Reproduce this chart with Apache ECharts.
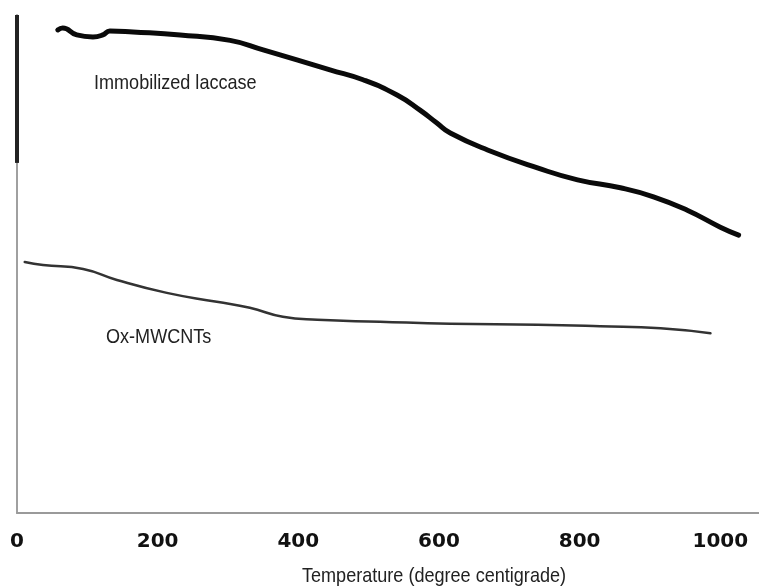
<!DOCTYPE html>
<html>
<head>
<meta charset="utf-8">
<script src="https://cdn.jsdelivr.net/npm/echarts@6/dist/echarts.min.js"></script>
<style>
  html, body { margin: 0; padding: 0; background: #fff; }
  #chart { width: 759px; height: 586px; }
</style>
</head>
<body>
<div id="chart"></div>
<script>
// temperature (degree centigrade) and relative weight
const laccaseTemp = [58, 65, 85, 108, 122, 132, 165, 232, 303, 350, 398, 445, 492, 541, 573, 597, 616, 669, 740, 797, 858, 905, 953, 1000, 1026]
const laccaseWeight = [97.0, 97.4, 96.0, 95.6, 96.0, 96.8, 96.6, 96.0, 94.9, 93.0, 91.0, 89.0, 87.0, 83.9, 80.9, 78.3, 76.3, 72.9, 69.3, 66.9, 65.3, 63.5, 60.8, 57.4, 55.8]

const mwcntTemp = [11, 37, 94, 142, 213, 284, 331, 378, 427, 516, 616, 740, 829, 915, 986]
const mwcntWeight = [50.4, 49.8, 49.0, 46.8, 44.2, 42.4, 41.2, 39.4, 38.8, 38.4, 38.0, 37.8, 37.5, 37.1, 36.1]

const xTicks = [0, 200, 400, 600, 800, 1000]
const seriesNames = ['Immobilized laccase', 'Ox-MWCNTs']
const axisTitle = 'Temperature (degree centigrade)'

const pair = (xs, ys) => xs.map((x, i) => [x, ys[i]])

// the original uses a condensed sans, so squeeze a normal one
const narrowText = (text, x, y) => ({
  type: 'text',
  x,
  y,
  scaleX: 0.86,
  style: { text, fill: '#222', font: '21px "Liberation Sans", Arial, sans-serif', textVerticalAlign: 'top' }
})

const chart = echarts.init(document.getElementById('chart'))

chart.setOption({
  animation: false,
  grid: { left: 17, right: 0, top: 15, bottom: 73, containLabel: false },
  xAxis: {
    type: 'value',
    min: 0,
    max: 1055,
    interval: 200,
    axisLine: { lineStyle: { color: '#9a9a9a', width: 2 } },
    axisTick: { show: false },
    splitLine: { show: false },
    axisLabel: {
      showMaxLabel: false,
      margin: 19,
      color: '#111',
      fontFamily: 'DejaVu Sans',
      fontWeight: 'bold',
      fontSize: 20,
      formatter: (v) => (xTicks.includes(v) ? String(v) : '')
    }
  },
  yAxis: {
    type: 'value',
    min: 0,
    max: 100,
    axisLine: { show: true, lineStyle: { color: '#a0a0a0', width: 2 } },
    axisTick: { show: false },
    axisLabel: { show: false },
    splitLine: { show: false }
  },
  graphic: [
    narrowText(seriesNames[0], 94, 73),
    narrowText(seriesNames[1], 106, 327),
    narrowText(axisTitle, 302, 566)
  ],
  series: [
    {
      name: seriesNames[0],
      type: 'line',
      data: pair(laccaseTemp, laccaseWeight),
      smooth: 0.5,
      showSymbol: false,
      clip: false,
      lineStyle: { color: '#0a0a0a', width: 5, cap: 'round', join: 'round' },
      markLine: {
        silent: true,
        symbol: ['none', 'none'],
        label: { show: false },
        lineStyle: { color: '#222', width: 4, type: 'solid' },
        data: [[{ coord: [0, 100] }, { coord: [0, 70.3] }]]
      }
    },
    {
      name: seriesNames[1],
      type: 'line',
      data: pair(mwcntTemp, mwcntWeight),
      smooth: 0.5,
      showSymbol: false,
      lineStyle: { color: '#333', width: 2.5, cap: 'round' }
    }
  ]
})
</script>
</body>
</html>
